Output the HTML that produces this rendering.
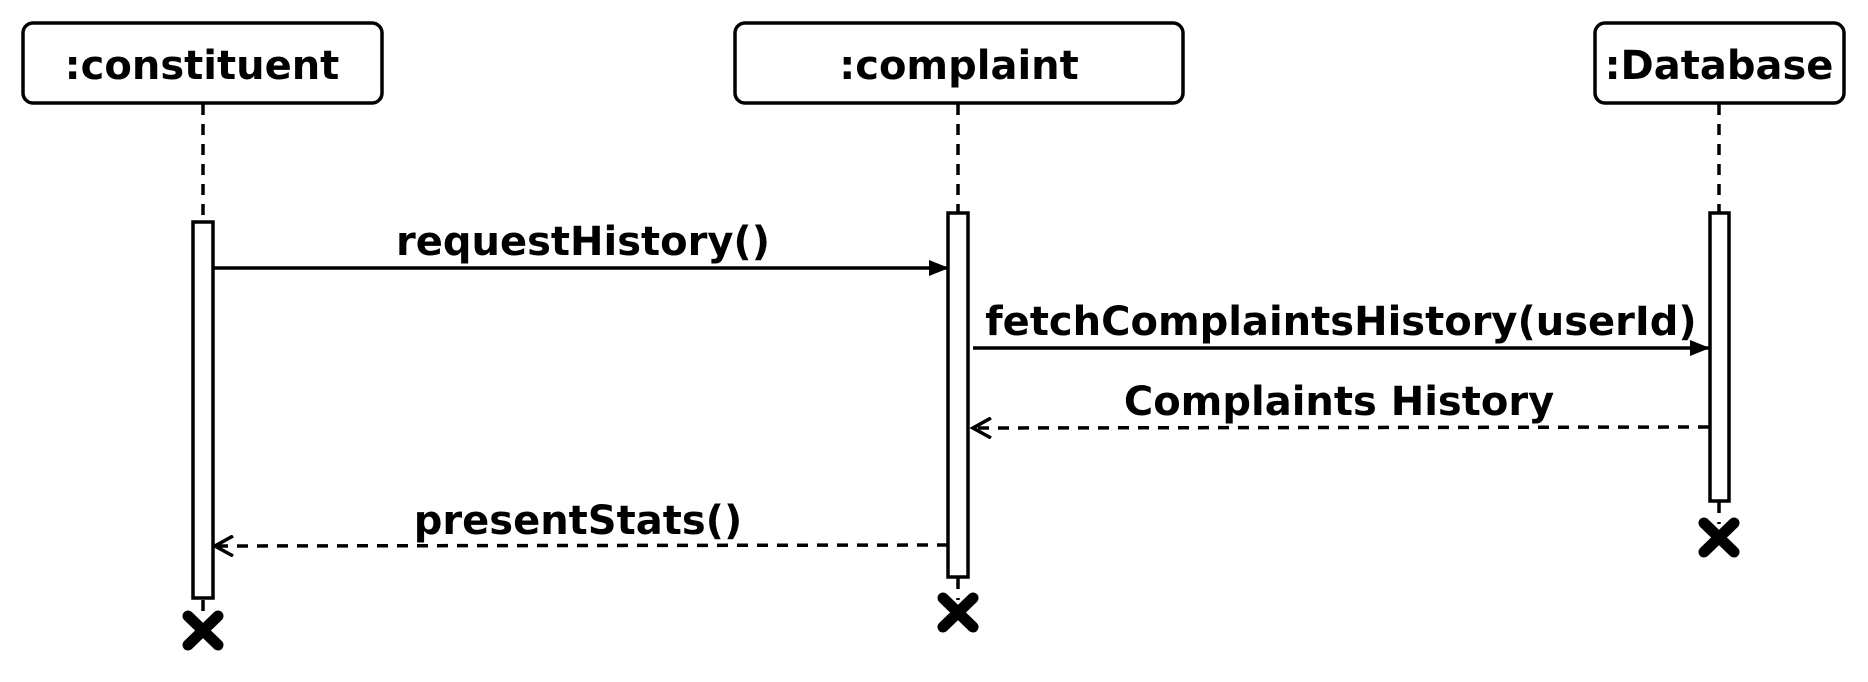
<!DOCTYPE html>
<html><head><meta charset="utf-8"><style>
html,body{margin:0;padding:0;background:#fff;width:1868px;height:682px;overflow:hidden}
text{font-family:"DejaVu Sans","Liberation Sans",sans-serif;font-weight:bold;font-size:40px;fill:#000}
</style></head><body>
<svg width="1868" height="682" viewBox="0 0 1868 682" xmlns="http://www.w3.org/2000/svg">
<defs>
<marker id="fa" markerWidth="20" markerHeight="16" refX="19" refY="8" orient="auto" markerUnits="userSpaceOnUse"><path d="M0,0 L20,8 L0,16 Z" fill="#000"/></marker>
<marker id="oa" markerWidth="22" markerHeight="22" refX="19" refY="11" orient="auto" markerUnits="userSpaceOnUse"><path d="M1,1 L19,11 L1,21" fill="none" stroke="#000" stroke-width="3.5"/></marker>
</defs>
<g fill="#fff" stroke="#000" stroke-width="3.5">
<rect x="23" y="23" width="359" height="80" rx="10"/>
<rect x="735" y="23" width="448" height="80" rx="10"/>
<rect x="1595" y="23" width="249" height="80" rx="10"/>
</g>
<text x="202" y="79" text-anchor="middle">:constituent</text>
<text x="959" y="79" text-anchor="middle">:complaint</text>
<text x="1719" y="79" text-anchor="middle">:Database</text>
<g stroke="#000" stroke-width="3.5" stroke-dasharray="11,9">
<line x1="203" y1="104" x2="203" y2="222"/>
<line x1="958" y1="104" x2="958" y2="212"/>
<line x1="1719" y1="104" x2="1719" y2="212"/>
<line x1="203" y1="600" x2="203" y2="618"/>
<line x1="958" y1="578" x2="958" y2="600"/>
<line x1="1719" y1="502" x2="1719" y2="524"/>
</g>
<g fill="#fff" stroke="#000" stroke-width="3.5">
<rect x="193" y="222" width="20" height="376"/>
<rect x="948" y="213" width="20" height="364"/>
<rect x="1710" y="213" width="19" height="288"/>
</g>
<g stroke="#000" stroke-width="3.5" fill="none">
<line x1="213" y1="268" x2="948" y2="268" marker-end="url(#fa)"/>
<line x1="973" y1="348" x2="1709" y2="348" marker-end="url(#fa)"/>
<line x1="1709" y1="427" x2="973" y2="428" stroke-dasharray="11,9" marker-end="url(#oa)"/>
<line x1="948" y1="545" x2="215" y2="546" stroke-dasharray="11,9" marker-end="url(#oa)"/>
</g>
<text x="583" y="255" text-anchor="middle">requestHistory()</text>
<text x="1341" y="335" text-anchor="middle">fetchComplaintsHistory(userId)</text>
<text x="1339" y="415" text-anchor="middle">Complaints History</text>
<text x="578" y="534" text-anchor="middle">presentStats()</text>
<g stroke="#000" stroke-width="11" stroke-linecap="round">
<path d="M188,616 L218,645 M218,616 L188,645"/>
<path d="M943,598 L973,627 M973,598 L943,627"/>
<path d="M1704,523 L1734,552 M1734,523 L1704,552"/>
</g>
</svg>
</body></html>
